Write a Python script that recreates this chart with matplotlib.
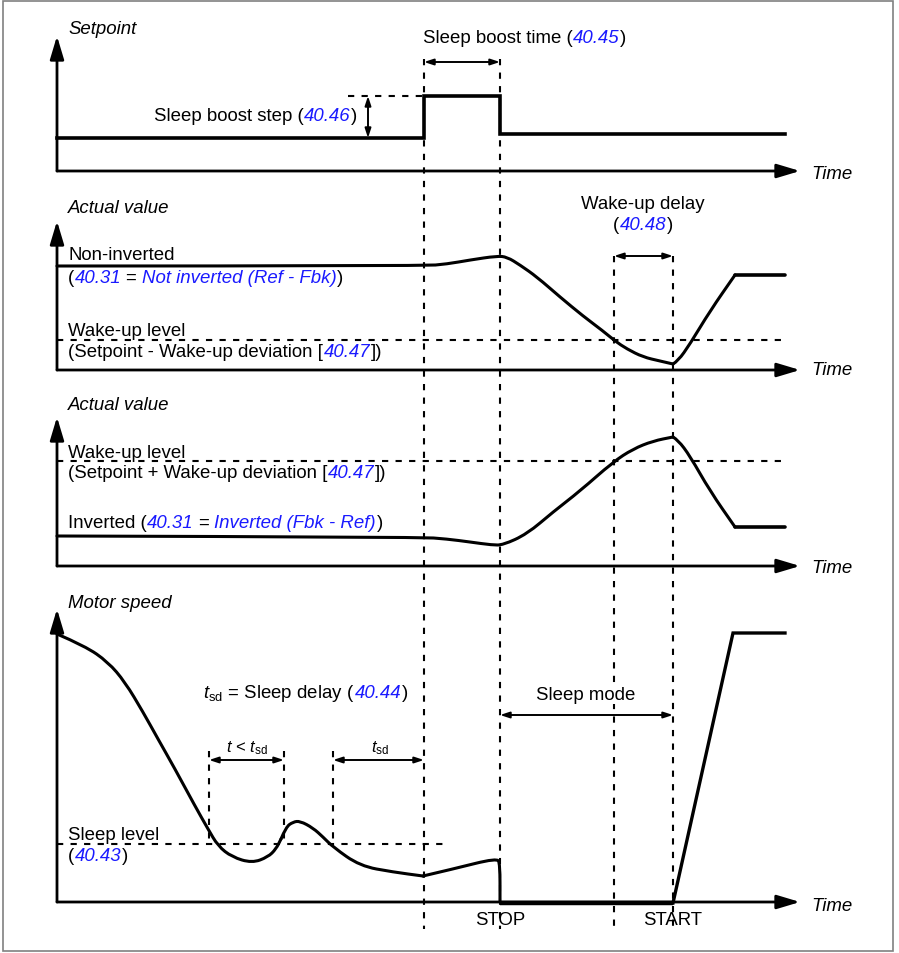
import numpy as np
import matplotlib
matplotlib.use("Agg")
import matplotlib.pyplot as plt
from matplotlib.patches import Rectangle, PathPatch
from matplotlib.path import Path

plt.rcParams["font.family"] = ["Liberation Sans", "DejaVu Sans"]
plt.rcParams["mathtext.fontset"] = "custom"
plt.rcParams["mathtext.rm"] = "Liberation Sans"
plt.rcParams["mathtext.it"] = "Liberation Sans:italic"

BLUE = "#1a1aff"
FS = 13.4

# --- event times (x in pixel units of the diagram) ---
t_axis = 57
t_boost_on = 424
t_boost_off = 500
t_wake_cross = 614
t_wake = 673
t_end = 785
t_arrow = 800

# --- panel baselines (time axis) and arrow tips ---
panel_axis = [172, 371, 567, 903]
panel_tip = [37, 222, 418, 610]
panel_title = ["Setpoint", "Actual value", "Actual value", "Motor speed"]
panel_title_y = [34, 213, 410, 608]
time_label_y = [179, 375, 573, 911]

# --- setpoint ---
sp_t = [57, 424, 424, 500, 500, 785]
sp_v = [139, 139, 97, 97, 135, 135]

# --- actual value, non-inverted (pieces split at sharp corners) ---
av1_a_t = [57, 424, 447, 470, 497, 507, 520, 537, 560, 583, 603, 615, 627, 643, 660, 673]
av1_a_v = [267, 267, 265, 261, 257, 258, 266, 278, 298, 317, 332, 342, 350, 358, 362, 365]
av1_b_t = [673, 678, 690, 710, 735]
av1_b_v = [365, 362, 345, 312, 276]
av1_c_t = [735, 785]
av1_c_v = [276, 276]
wake_level_1 = 341

# --- actual value, inverted ---
av2_a_t = [57, 420, 447, 470, 492, 503, 527, 553, 580, 613, 633, 653, 673]
av2_a_v = [537, 538, 540, 543, 546, 546, 535, 513, 492, 463, 450, 442, 438]
av2_b_t = [673, 678, 690, 710, 735]
av2_b_v = [438, 441, 457, 492, 528]
av2_c_t = [735, 785]
av2_c_v = [528, 528]
wake_level_2 = 462

# --- motor speed ---
ms_a_t = [57, 85, 108, 125, 143, 158, 175, 195, 208, 218, 232, 252, 268, 276, 281]
ms_a_v = [635, 647, 663, 683, 713, 740, 770, 807, 830, 847, 858, 864, 858, 850, 840]
ms_b_t = [281, 286, 293, 300, 313, 323, 333, 360, 393, 423]
ms_b_v = [840, 828, 823, 822, 829, 838, 848, 867, 873, 877]
ms_c_t = [423, 453, 497, 500, 500]
ms_c_v = [877, 870, 859, 865, 903]
sleep_t = [500, 673]
sleep_v = [904, 904]
ramp_t = [673, 733, 785]
ramp_v = [904, 634, 634]
sleep_level = 845

fig = plt.figure(figsize=(8.99, 9.54), dpi=100)
ax = fig.add_axes([0, 0, 1, 1])
ax.set_xlim(0, 899)
ax.set_ylim(954, 0)
ax.axis("off")

ax.add_patch(Rectangle((3, 2), 890, 950, fill=False, ec="#808080", lw=1.2))

renderer = fig.canvas.get_renderer()


def smooth(ts, vs, lw=2.2):
    # quadratic Bezier through the midpoints, read points as control points
    pts = list(zip(ts, vs))
    verts = [pts[0]]
    codes = [Path.MOVETO]
    for i in range(1, len(pts) - 1):
        mid = ((pts[i][0] + pts[i + 1][0]) / 2, (pts[i][1] + pts[i + 1][1]) / 2)
        verts += [pts[i], mid]
        codes += [Path.CURVE3, Path.CURVE3]
    verts.append(pts[-1])
    codes.append(Path.LINETO)
    ax.add_patch(PathPatch(Path(verts, codes), fill=False, lw=lw, ec="black",
                           capstyle="round", joinstyle="round"))


def rich(x, y, parts, ha="left", size=FS):
    # parts: (text, color, italic) -- placed one after another on one baseline
    sp_w = size * 100 / 72 * 0.278
    items = []
    for s, color, it in parts:
        lead = len(s) - len(s.lstrip(" "))
        trail = len(s) - len(s.rstrip(" "))
        t = ax.text(x, y, s.strip(" "), color=color, fontsize=size,
                    style="italic" if it else "normal", va="baseline", ha="left")
        w = t.get_window_extent(renderer).width + 0.5
        if it and trail:
            w -= 1.5
        items.append((t, lead * sp_w, w, trail * sp_w))
    total = sum(a + b + c for _, a, b, c in items)
    cur = x - total / 2 if ha == "center" else (x - total if ha == "right" else x)
    for t, a, b, c in items:
        cur += a
        t.set_x(cur)
        cur += b + c


def darrow(x0, x1, y0, y1):
    ax.annotate("", xy=(x1, y1), xytext=(x0, y0),
                arrowprops=dict(arrowstyle="<|-|>,head_length=0.55,head_width=0.18",
                                color="black", lw=1.4, shrinkA=0, shrinkB=0,
                                mutation_scale=10))


dash = dict(color="black", lw=1.5, ls=(0, (3, 3.5)))

# axes with arrowheads
for ya, yt, title, tty, tly in zip(panel_axis, panel_tip, panel_title, panel_title_y, time_label_y):
    ax.annotate("", xy=(t_axis, yt), xytext=(t_axis, ya),
                arrowprops=dict(arrowstyle="-|>,head_length=1.4,head_width=0.42",
                                color="black", lw=2, shrinkA=0, shrinkB=0, mutation_scale=10))
    ax.annotate("", xy=(t_arrow, ya), xytext=(t_axis, ya),
                arrowprops=dict(arrowstyle="-|>,head_length=1.4,head_width=0.42",
                                color="black", lw=2, shrinkA=0, shrinkB=0, mutation_scale=10))
    ax.text(68, tty, title, style="italic", fontsize=FS, va="baseline")
    ax.text(811, tly, "Time", style="italic", fontsize=FS, va="baseline")

# vertical dashed event lines
ax.plot([t_boost_on, t_boost_on], [60, 930], **dash)
ax.plot([t_boost_off, t_boost_off], [60, 930], **dash)
ax.plot([t_wake_cross, t_wake_cross], [257, 930], **dash)
ax.plot([t_wake, t_wake], [257, 930], **dash)

# setpoint panel
ax.plot(sp_t, sp_v, color="black", lw=2.6, solid_joinstyle="miter")
ax.plot([348, t_boost_on], [sp_v[2], sp_v[2]], **dash)
darrow(368, 368, sp_v[2], sp_v[0])
rich(358, 121, [("Sleep boost step (", "black", False), ("40.46", BLUE, True),
                (")", "black", False)], ha="right")
darrow(t_boost_on, t_boost_off, 63, 63)
rich(525, 43, [("Sleep boost time (", "black", False), ("40.45", BLUE, True),
               (")", "black", False)], ha="center")

# actual value, non-inverted
ax.plot([t_axis, t_end], [wake_level_1, wake_level_1], **dash)
smooth(av1_a_t, av1_a_v)
smooth(av1_b_t, av1_b_v)
smooth(av1_c_t, av1_c_v, lw=2.6)
ax.text(68, 260, "Non-inverted", fontsize=FS, va="baseline")
rich(68, 283, [("(", "black", False), ("40.31 ", BLUE, True), ("= ", "black", False),
               ("Not inverted (Ref - Fbk)", BLUE, True), (")", "black", False)])
ax.text(68, 336, "Wake-up level", fontsize=FS, va="baseline")
rich(68, 357, [("(Setpoint - Wake-up deviation [", "black", False), ("40.47", BLUE, True),
               ("])", "black", False)])
ax.text(643, 209, "Wake-up delay", fontsize=FS, va="baseline", ha="center")
rich(643, 230, [("(", "black", False), ("40.48", BLUE, True), (")", "black", False)], ha="center")
darrow(t_wake_cross, t_wake, 257, 257)

# actual value, inverted
ax.plot([t_axis, t_end], [wake_level_2, wake_level_2], **dash)
smooth(av2_a_t, av2_a_v)
smooth(av2_b_t, av2_b_v)
smooth(av2_c_t, av2_c_v, lw=2.6)
ax.text(68, 458, "Wake-up level", fontsize=FS, va="baseline")
rich(68, 478, [("(Setpoint + Wake-up deviation [", "black", False), ("40.47", BLUE, True),
               ("])", "black", False)])
rich(68, 528, [("Inverted (", "black", False), ("40.31 ", BLUE, True), ("= ", "black", False),
               ("Inverted (Fbk - Ref)", BLUE, True), (")", "black", False)])

# motor speed
ax.plot([t_axis, 447], [sleep_level, sleep_level], **dash)
smooth(ms_a_t, ms_a_v)
smooth(ms_b_t, ms_b_v)
smooth(ms_c_t, ms_c_v)
ax.plot(sleep_t, sleep_v, color="black", lw=3.2, solid_capstyle="butt")
ax.plot(ramp_t, ramp_v, color="black", lw=2.4, solid_joinstyle="miter")
ax.text(68, 840, "Sleep level", fontsize=FS, va="baseline")
rich(68, 861, [("(", "black", False), ("40.43", BLUE, True), (")", "black", False)])

for xv in [209, 284, 333]:
    ax.plot([xv, xv], [752, sleep_level], **dash)
darrow(209, 284, 761, 761)
darrow(333, t_boost_on, 761, 761)
ax.text(247, 752, r"$t$ < $t_{\mathrm{sd}}$", fontsize=12, va="baseline", ha="center")
ax.text(380, 752, r"$t_{\mathrm{sd}}$", fontsize=12, va="baseline", ha="center")
rich(306, 698, [(r"$t_{\mathrm{sd}}$ = Sleep delay (", "black", False), ("40.44", BLUE, True),
                (")", "black", False)], ha="center")

ax.text(586, 700, "Sleep mode", fontsize=FS, va="baseline", ha="center",
        bbox=dict(fc="white", ec="none", pad=1))
darrow(t_boost_off, t_wake, 716, 716)
ax.text(t_boost_off, 925, "STOP", fontsize=FS, va="baseline", ha="center")
ax.text(t_wake, 925, "START", fontsize=FS, va="baseline", ha="center")

fig.savefig("out.png", dpi=100, facecolor="white")
